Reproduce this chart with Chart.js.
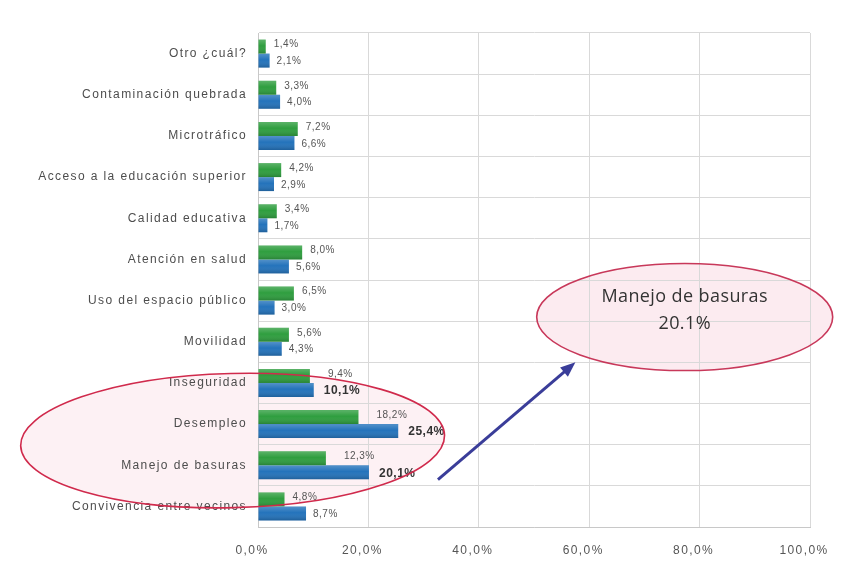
<!DOCTYPE html>
<html>
<head>
<meta charset="utf-8">
<script src="https://cdn.jsdelivr.net/npm/chart.js@4"></script>
<style>
  body { margin: 0; background: #ffffff; }
</style>
</head>
<body>
<canvas id="bar_chart" width="856" height="573"></canvas>
<script>
// categorías de arriba hacia abajo
const categories = [
    'Otro ¿cuál?',
    'Contaminación quebrada',
    'Microtráfico',
    'Acceso a la educación superior',
    'Calidad educativa',
    'Atención en salud',
    'Uso del espacio público',
    'Movilidad',
    'Inseguridad',
    'Desempleo',
    'Manejo de basuras',
    'Convivencia entre vecinos'
];
const greenValues = [1.4, 3.3, 7.2, 4.2, 3.4, 8.0, 6.5, 5.6, 9.4, 18.2, 12.3, 4.8];
const blueValues = [2.1, 4.0, 6.6, 2.9, 1.7, 5.6, 3.0, 4.3, 10.1, 25.4, 20.1, 8.7];
const tickLabels = ['0,0%', '20,0%', '40,0%', '60,0%', '80,0%', '100,0%'];
const highlighted = ['Inseguridad', 'Desempleo', 'Manejo de basuras'];

const fmt = (v) => v.toFixed(1).replace('.', ',') + '%';

// brillo tipo 3D sobre las barras + etiquetas de datos
const barLabels = {
    id: 'barLabels',
    afterDatasetsDraw(chart) {
        const ctx = chart.ctx;
        ctx.save();
        chart.data.datasets.forEach((ds, di) => {
            chart.getDatasetMeta(di).data.forEach((bar) => {
                const left = bar.base, w = bar.x - bar.base;
                const top = bar.y - bar.height / 2, h = bar.height;
                const g = ctx.createLinearGradient(0, top, 0, top + h);
                g.addColorStop(0, 'rgba(255,255,255,0.22)');
                g.addColorStop(0.45, 'rgba(255,255,255,0.0)');
                g.addColorStop(1, 'rgba(0,0,0,0.18)');
                ctx.fillStyle = g;
                ctx.fillRect(left, top, w, h);
            });
        });

        ctx.letterSpacing = '0.5px';
        ctx.textBaseline = 'middle';
        ctx.textAlign = 'left';
        chart.data.datasets.forEach((ds, di) => {
            chart.getDatasetMeta(di).data.forEach((bar, i) => {
                const inHl = highlighted.includes(categories[i]);
                const hl = di === 1 && inHl;
                ctx.font = hl ? 'bold 12px "Liberation Sans"' : '10px "Liberation Sans"';
                ctx.fillStyle = hl ? '#333333' : '#555555';
                const dx = hl ? 10 : (di === 0 ? (inHl ? 18 : 8) : 7);
                const dy = di === 0 ? -2 : 1;
                ctx.fillText(fmt(ds.data[i]), bar.x + dx, bar.y + dy);
            });
        });
        ctx.restore();
    }
};

// elipses, flecha y texto del resaltado
function ellipses(chart) {
    const x = chart.scales.x, y = chart.scales.y;
    const row = y.getPixelForValue(1) - y.getPixelForValue(0);
    return [
        [x.getPixelForValue(-4.6), y.getPixelForValue(9.4), 212, 1.63 * row, -0.025],
        [x.getPixelForValue(77.3), y.getPixelForValue(6.4), 148, 1.3 * row, 0]
    ];
}

const callout = {
    id: 'callout',
    beforeDraw(chart) {
        const ctx = chart.ctx;
        ctx.letterSpacing = '1.4px';
        const [e1, e2] = ellipses(chart);
        ctx.save();
        ctx.fillStyle = 'rgba(250, 214, 224, 0.35)';
        ctx.beginPath();
        ctx.ellipse(e1[0], e1[1], e1[2], e1[3], e1[4], 0, Math.PI * 2);
        ctx.fill();
        ctx.fillStyle = 'rgba(250, 218, 228, 0.55)';
        ctx.beginPath();
        ctx.ellipse(e2[0], e2[1], e2[2], e2[3], e2[4], 0, Math.PI * 2);
        ctx.fill();
        ctx.restore();
    },
    afterDatasetsDraw(chart) {
        const ctx = chart.ctx;
        const x = chart.scales.x, y = chart.scales.y;
        const [e1, e2] = ellipses(chart);
        ctx.save();
        ctx.strokeStyle = '#d02a4c';
        ctx.lineWidth = 1.6;
        ctx.beginPath();
        ctx.ellipse(e1[0], e1[1], e1[2], e1[3], e1[4], 0, Math.PI * 2);
        ctx.stroke();
        ctx.strokeStyle = '#c8385a';
        ctx.beginPath();
        ctx.ellipse(e2[0], e2[1], e2[2], e2[3], e2[4], 0, Math.PI * 2);
        ctx.stroke();

        // flecha
        const x0 = x.getPixelForValue(32.6), y0 = y.getPixelForValue(10.35);
        const x1 = x.getPixelForValue(57.5), y1 = y.getPixelForValue(7.5);
        const ang = Math.atan2(y1 - y0, x1 - x0);
        ctx.strokeStyle = '#3a3d99';
        ctx.fillStyle = '#3a3d99';
        ctx.lineWidth = 3;
        ctx.beginPath();
        ctx.moveTo(x0, y0);
        ctx.lineTo(x1 - 10 * Math.cos(ang), y1 - 10 * Math.sin(ang));
        ctx.stroke();
        ctx.beginPath();
        ctx.moveTo(x1, y1);
        ctx.lineTo(x1 - 15 * Math.cos(ang) + 6 * Math.sin(ang), y1 - 15 * Math.sin(ang) - 6 * Math.cos(ang));
        ctx.lineTo(x1 - 15 * Math.cos(ang) - 6 * Math.sin(ang), y1 - 15 * Math.sin(ang) + 6 * Math.cos(ang));
        ctx.closePath();
        ctx.fill();

        // texto
        ctx.letterSpacing = '0.4px';
        ctx.fillStyle = '#333333';
        ctx.font = '18px "Open Sans"';
        ctx.textAlign = 'center';
        ctx.textBaseline = 'middle';
        ctx.fillText('Manejo de basuras', e2[0], y.getPixelForValue(5.9));
        ctx.fillText('20.1%', e2[0], y.getPixelForValue(6.56));
        ctx.restore();
    }
};

const ctx = document.getElementById('bar_chart').getContext('2d');

const bar_chart = new Chart(ctx, {
    type: 'bar',
    data: {
        labels: categories,
        datasets: [{
            data: greenValues,
            backgroundColor: '#2f9e3f',
            borderWidth: 0,
            barPercentage: 1.0,
            categoryPercentage: 0.68
        }, {
            data: blueValues,
            backgroundColor: '#2473bb',
            borderWidth: 0,
            barPercentage: 1.0,
            categoryPercentage: 0.68
        }]
    },
    options: {
        indexAxis: 'y',
        responsive: false,
        animation: false,
        plugins: {
            legend: { display: false },
            title: { display: false },
            tooltip: { enabled: false }
        },
        layout: {
            padding: { left: 4, top: 33, right: 46, bottom: 6 }
        },
        scales: {
            x: {
                min: 0,
                max: 100,
                ticks: {
                    stepSize: 20,
                    padding: 16,
                    labelOffset: -6,
                    color: '#555555',
                    font: { family: "'Liberation Sans', sans-serif", size: 12 },
                    callback: (v, i) => tickLabels[i]
                },
                grid: { color: '#d9d9d9', drawTicks: false },
                border: { color: '#c8c8c8' },
                afterFit: (scale) => { scale.height = 40; }
            },
            y: {
                ticks: {
                    padding: 11,
                    color: '#4d4d4d',
                    font: { family: "'Liberation Sans', sans-serif", size: 12 }
                },
                grid: { color: '#d9d9d9', drawTicks: false, offset: true },
                border: { color: '#c8c8c8' },
                afterFit: (scale) => { scale.width = 254; }
            }
        }
    },
    plugins: [barLabels, callout]
});
</script>
</body>
</html>
